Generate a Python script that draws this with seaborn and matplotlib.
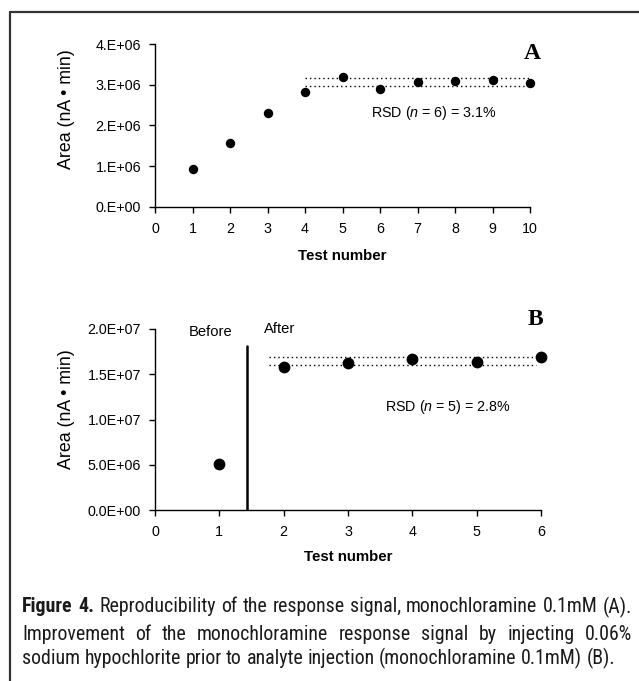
import matplotlib
matplotlib.use("Agg")
import matplotlib.pyplot as plt
from matplotlib.lines import Line2D
from matplotlib import font_manager
import seaborn as sns
import pandas as pd

# ---------------- data ----------------
testA = [1, 2, 3, 4, 5, 6, 7, 8, 9, 10]
areaA = [0.93e6, 1.56e6, 2.30e6, 2.81e6, 3.18e6, 2.89e6, 3.07e6, 3.10e6, 3.12e6, 3.04e6]
bandA_levels = [2.97e6, 3.17e6]
bandA_x = [4, 10]
yticksA = [0, 1e6, 2e6, 3e6, 4e6]
yticklabelsA = ["0.E+00", "1.E+06", "2.E+06", "3.E+06", "4.E+06"]
xticksA = [0, 1, 2, 3, 4, 5, 6, 7, 8, 9, 10]

testB = [1, 2, 3, 4, 5, 6]
areaB = [5.10e6, 15.75e6, 16.19e6, 16.70e6, 16.33e6, 16.96e6]
bandB_levels = [15.97e6, 16.88e6]
bandB_x = [1.77, 5.92]
dividerB_x = 1.43
dividerB_top = 18.1e6
yticksB = [0, 5e6, 10e6, 15e6, 20e6]
yticklabelsB = ["0.0E+00", "5.0E+06", "1.0E+07", "1.5E+07", "2.0E+07"]
xticksB = [0, 1, 2, 3, 4, 5, 6]

ylabel = "Area (nA \u2022 min)"
xlabel = "Test number"
rsdA = "RSD ($\\it{n}$ = 6) = 3.1%"
rsdB = "RSD ($\\it{n}$ = 5) = 2.8%"
caption_bold = "Figure 4."
caption_l1 = "Reproducibility of the response signal, monochloramine 0.1mM (A)."
caption_l2 = "Improvement of the monochloramine response signal by injecting 0.06%"
caption_l3 = "sodium hypochlorite prior to analyte injection (monochloramine 0.1mM) (B)."

# ---------------- style ----------------
sns.set_theme(style="white")
plt.rcParams["font.family"] = ["Liberation Sans", "DejaVu Sans"]
plt.rcParams["mathtext.fontset"] = "custom"
plt.rcParams["mathtext.it"] = "Liberation Sans:italic"
plt.rcParams["mathtext.rm"] = "Liberation Sans"

names = {f.name for f in font_manager.fontManager.ttflist}
cond = None
for cand in ["Liberation Sans Narrow", "Roboto Condensed", "Open Sans Condensed",
             "DejaVu Sans Condensed", "Noto Sans Condensed"]:
    if cand in names:
        cond = cand
        break

W, H = 639, 681
fig = plt.figure(figsize=(W / 100, H / 100), dpi=100)
fig.patch.set_facecolor("white")

def ax_rect(l, r, b, t):
    return [l / W, 1 - b / H, (r - l) / W, (b - t) / H]

axA = fig.add_axes(ax_rect(155, 530, 207, 44))
axB = fig.add_axes(ax_rect(155, 541, 510, 329))

tick_fs = 10.3
lab_fs = 12.8

def style_axis(ax, xt, yt, ytl, xmax, ymax, ylab_x, ylab_y, xlab_pad):
    ax.set_xlim(0, xmax)
    ax.set_ylim(0, ymax)
    ax.set_xticks(xt)
    ax.set_xticklabels([str(v) for v in xt])
    ax.set_yticks(yt)
    ax.set_yticklabels(ytl)
    for s in ["top", "right"]:
        ax.spines[s].set_visible(False)
    for s in ["left", "bottom"]:
        ax.spines[s].set_color("black")
        ax.spines[s].set_linewidth(1.0)
    ax.tick_params(axis="both", which="major", direction="out", length=4, width=1,
                   color="black", labelsize=tick_fs, labelcolor="black", pad=6,
                   bottom=True, left=True)
    ax.tick_params(axis="x", pad=7)
    ax.set_ylabel(ylabel, fontsize=lab_fs, color="black")
    ax.yaxis.set_label_coords(ylab_x, ylab_y)
    ax.set_xlabel(xlabel, fontsize=10.8, fontweight="bold", color="black", labelpad=xlab_pad)
    ax.set_facecolor("white")
    ax.grid(False)

# Panel A
dfA = pd.DataFrame({"test": testA, "area": areaA})
for lv in bandA_levels:
    axA.plot(bandA_x, [lv, lv], linestyle=(0, (1, 2.2)), color="black", lw=1.0, zorder=1)
sns.scatterplot(data=dfA, x="test", y="area", ax=axA, color="black", s=46,
                edgecolor="black", linewidth=0, zorder=3, clip_on=False, legend=False)
style_axis(axA, xticksA, yticksA, yticklabelsA, 10, 4e6, -0.213, 0.60, 9)
axA.text(7.45, 2.30e6, rsdA, ha="center", va="center", fontsize=10.3, color="black")
axA.text(10.3, 3.77e6, "A", ha="right", va="center", fontsize=17, fontweight="bold",
         family=["Liberation Serif", "DejaVu Serif"], color="black")

# Panel B
dfB = pd.DataFrame({"test": testB, "area": areaB})
for lv in bandB_levels:
    axB.plot(bandB_x, [lv, lv], linestyle=(0, (1, 2.2)), color="black", lw=1.0, zorder=1)
axB.plot([dividerB_x, dividerB_x], [0, dividerB_top], color="black", lw=1.8, zorder=2)
sns.scatterplot(data=dfB, x="test", y="area", ax=axB, color="black", s=72,
                edgecolor="black", linewidth=0, zorder=3, clip_on=False, legend=False)
style_axis(axB, xticksB, yticksB, yticklabelsB, 6, 2e7, -0.207, 0.555, 7.5)
axB.text(4.55, 11.4e6, rsdB, ha="center", va="center", fontsize=10.3, color="black")
axB.text(0.86, 19.67e6, "Before", ha="center", va="center", fontsize=10.6, color="black")
axB.text(1.93, 20.0e6, "After", ha="center", va="center", fontsize=10.6, color="black")
axB.text(6.04, 21.1e6, "B", ha="right", va="center", fontsize=17, fontweight="bold",
         family=["Liberation Serif", "DejaVu Serif"], color="black")

# Frame (top and left edges)
fig.add_artist(Line2D([10 / W, 1.0], [1 - 12 / H, 1 - 12 / H], transform=fig.transFigure,
                      color="#333333", lw=1.6))
fig.add_artist(Line2D([10 / W, 10 / W], [1 - 12 / H, 0.0], transform=fig.transFigure,
                      color="#333333", lw=1.6))

# Caption (lines 1-2 justified, like the journal typesetting)
cap_family = [cond, "DejaVu Sans"] if cond else ["Liberation Sans", "DejaVu Sans"]
cap_color = "#1a1a1a"
left_px, right_px = 22, 632
line3_right = 615
r = fig.canvas.get_renderer()

# size so that the (unjustified) last line has its natural reference width
probe = fig.text(0, 0, caption_l3, fontsize=10, family=cap_family)
w10 = probe.get_window_extent(renderer=r).width
probe.remove()
cap_size = 10 * (line3_right - left_px) / w10

def space_width():
    sp = fig.text(0, 0, "a b", fontsize=cap_size, family=cap_family)
    w = sp.get_window_extent(renderer=r).width
    sp.set_text("ab")
    w -= sp.get_window_extent(renderer=r).width
    sp.remove()
    return w

sp_w = space_width()

def draw_line(words, y_px, justify):
    arts, widths = [], []
    for txt, wt in words:
        t = fig.text(0, 1 - y_px / H, txt, ha="left", va="center", fontsize=cap_size,
                     fontweight=wt, family=cap_family, color=cap_color)
        arts.append(t)
        widths.append(t.get_window_extent(renderer=r).width)
    gap = sp_w
    if justify and len(words) > 1:
        gap = max((right_px - left_px - sum(widths)) / (len(words) - 1), sp_w * 0.8)
    x = left_px
    for t, w in zip(arts, widths):
        t.set_x(x / W)
        x += w + gap

line1 = [(w, "bold") for w in caption_bold.split()] + [(w, "normal") for w in caption_l1.split()]
line2 = [(w, "normal") for w in caption_l2.split()]
line3 = [(w, "normal") for w in caption_l3.split()]
draw_line(line1, 607, True)
draw_line(line2, 634, True)
draw_line(line3, 658, False)

fig.savefig("out.png", dpi=100, facecolor="white")
